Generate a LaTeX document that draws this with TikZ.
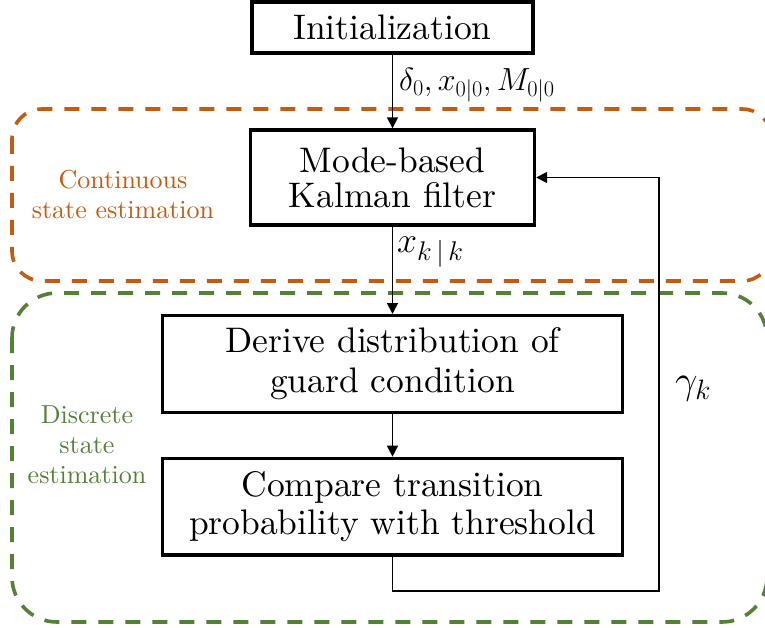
\documentclass[tikz,border=0pt]{standalone}
\usepackage{fix-cm}
\usepackage{fontspec}
\setmainfont{lmroman10}[Extension=.otf, UprightFont=*-regular, BoldFont=*-bold, ItalicFont=*-italic, BoldItalicFont=*-bolditalic]
\usetikzlibrary{arrows.meta}
\definecolor{orng}{HTML}{C55A11}
\definecolor{grn}{HTML}{538135}
\begin{document}
\begin{tikzpicture}[x=1pt,y=-1pt,
  box/.style={draw=black, line width=3.4pt, align=center, inner sep=0pt,
    font=\fontsize{35.5}{35}\selectfont},
  conn/.style={draw=black, line width=1.7pt, -{Triangle[length=11pt,width=11pt]}},
  region/.style={line width=3.6pt, dash pattern=on 15pt off 12pt},
  sidelabel/.style={align=center, inner sep=0pt, font=\fontsize{26}{30}\selectfont},
  mathlabel/.style={inner sep=0pt}]
\useasboundingbox (0,0) rectangle (765,628);
% regions
\draw[region, orng, rounded corners=30pt] (12,109) rectangle (772,281);
\draw[region, grn, rounded corners=45pt] (12,293) rectangle (767,622);
% boxes
\node[box, minimum width=281pt, minimum height=51pt] (init) at (392.5,27.7) {Initialization};
\node[box, minimum width=284pt, minimum height=95pt] (kal) at (392.5,177.5) {Mode-based\\Kalman filter};
\node[box, minimum width=459.5pt, minimum height=96.6pt] (der) at (392.5,364) {Derive distribution of\\[5pt]guard condition};
\node[box, minimum width=459.5pt, minimum height=96.7pt] (cmp) at (392.5,506.7) {Compare transition\\[3pt]probability with threshold};
% connectors
\draw[conn] (init) -- (kal);
\draw[conn] (kal) -- (der);
\draw[conn] (der) -- (cmp);
\coordinate (fb) at (659,591);
\draw[conn] (cmp.south) |- (fb) |- (kal.east);
% labels
\node[mathlabel, anchor=base west, font=\fontsize{32}{32}\selectfont] (l0) at (399,91) {$\delta_0, x_{0|0}, M_{0|0}$};
\node[mathlabel, anchor=base west, font=\fontsize{36}{36}\selectfont] (lx) at (397,253) {$x_{\mbox{\fontsize{27}{27}\selectfont$k\,|\,k$}}$};
\node[mathlabel, font=\fontsize{40}{40}\selectfont] (lg) at (693,389) {$\gamma_k$};
\node[sidelabel, text=orng] (lc) at (123,194) {Continuous\\state estimation};
\node[sidelabel, text=grn] (ld) at (87,444.5) {Discrete\\state\\estimation};
\end{tikzpicture}
\end{document}
